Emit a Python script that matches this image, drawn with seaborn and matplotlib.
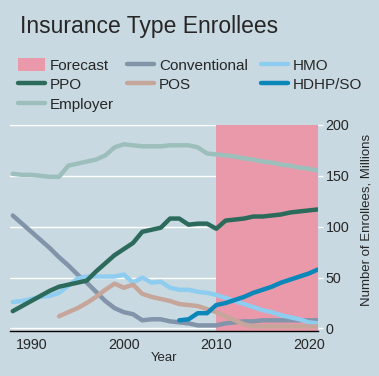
import numpy as np
import pandas as pd
import matplotlib
matplotlib.use("Agg")
import matplotlib.pyplot as plt
from matplotlib.lines import Line2D
from matplotlib.patches import Patch
import seaborn as sns

# values (millions of enrollees)
years = list(range(1988, 2022))
employer = [152, 151, 151, 150, 149, 149, 160, 162, 164, 166, 170, 178, 181, 180, 179, 179, 179,
            180, 180, 180, 178, 172, 171, 170, 169, 167, 166, 164, 163, 161, 160, 158, 157, 155]
conventional = [111, 103, 95, 87, 79, 70, 62, 53, 45, 36, 27, 20, 16, 14, 8, 9, 9,
                7, 6, 5, 3, 3, 3, 5, 6, 7, 7, 8, 8, 8, 8, 8, 8, 8]
ppo = [17, 22, 27, 32, 37, 41, 43, 45, 47, 56, 64, 72, 78, 84, 95, 97, 99,
       108, 108, 102, 103, 103, 98, 106, 107, 108, 110, 110, 111, 112, 114, 115, 116, 117]
hmo = [26, 27, 29, 31, 32, 35, 42, 49, 51, 51, 51, 51, 53, 45, 50, 45, 46,
       40, 38, 38, 36, 35, 33, 30, 27, 24, 21, 18, 16, 13, 11, 9, 6, 5]
pos_years = list(range(1993, 2022))
pos = [12, 16, 20, 25, 31, 38, 44, 40, 43, 34, 31, 29, 27, 24, 23, 22, 19, 16,
       12, 8, 4, 2, 2, 2, 2, 2, 2, 2, 2]
hdhp_years = list(range(2006, 2022))
hdhp = [8, 9, 15, 15, 23, 25, 28, 31, 35, 38, 41, 45, 48, 51, 54, 58]

forecast_start, forecast_end = 2010, 2021

series_order = ["Employer", "Conventional", "HMO", "POS", "PPO", "HDHP/SO"]
colors = {
    "Conventional": "#8194aa",
    "HMO": "#8fcdf0",
    "PPO": "#2c6b5b",
    "POS": "#c6a69b",
    "HDHP/SO": "#0b87ba",
    "Employer": "#9dbfbc",
}
bg = "#c9d9e1"
forecast_color = "#e999a9"

frames = []
for name, xs, ys in [("Employer", years, employer), ("Conventional", years, conventional),
                     ("PPO", years, ppo), ("HMO", years, hmo),
                     ("POS", pos_years, pos), ("HDHP/SO", hdhp_years, hdhp)]:
    frames.append(pd.DataFrame({"Year": xs, "Enrollees": ys, "Type": name}))
df = pd.concat(frames, ignore_index=True)

sns.set_style("white")
plt.rcParams["font.family"] = ["Liberation Sans", "DejaVu Sans"]

fig = plt.figure(figsize=(3.79, 3.76), dpi=100, facecolor=bg)
ax = fig.add_axes([0.0264, 0.1197, 0.8127, 0.548], facecolor=bg)

ax.axvspan(forecast_start, forecast_end, color=forecast_color, lw=0, zorder=1)
for v in [0, 50, 100, 150, 200]:
    ax.axhline(v, color="white", lw=1, zorder=0.5)

sns.lineplot(data=df, x="Year", y="Enrollees", hue="Type", hue_order=series_order,
             palette=colors, lw=3.2, ax=ax, legend=False, zorder=3)

ax.set_xlim(1987.7, 2021)
ax.set_ylim(-2.5, 200)
for s in ["top", "left", "right"]:
    ax.spines[s].set_visible(False)
ax.spines["bottom"].set_color("black")
ax.spines["bottom"].set_linewidth(1)
ax.spines["bottom"].set_zorder(4)

ax.set_xticks([1990, 2000, 2010, 2020])
ax.tick_params(axis="x", direction="in", length=4, width=1, color="black",
               labelsize=10.3, pad=5)
ax.yaxis.tick_right()
ax.yaxis.set_label_position("right")
ax.set_yticks([0, 50, 100, 150, 200])
ax.tick_params(axis="y", direction="out", length=3.5, width=1, color="white",
               labelsize=10.3, pad=2)
ax.set_xlabel("Year", fontsize=9.5, labelpad=0)
ax.set_ylabel("Number of Enrollees, Millions", fontsize=9.5, labelpad=8)
ax.yaxis.label.set_y(0.54)

fig.text(0.053, 0.9114, "Insurance Type Enrollees", fontsize=16.5, va="baseline", ha="left")

lw_leg = 3.2
handles = [
    Patch(facecolor=forecast_color, edgecolor="none", label="Forecast"),
    Line2D([], [], color=colors["PPO"], lw=lw_leg, label="PPO"),
    Line2D([], [], color=colors["Employer"], lw=lw_leg, label="Employer"),
    Line2D([], [], color=colors["Conventional"], lw=lw_leg, label="Conventional"),
    Line2D([], [], color=colors["POS"], lw=lw_leg, label="POS"),
    Line2D([], [], color=colors["HMO"], lw=lw_leg, label="HMO"),
    Line2D([], [], color=colors["HDHP/SO"], lw=lw_leg, label="HDHP/SO"),
]
fig.legend(handles=handles, ncol=3, loc="upper left", bbox_to_anchor=(0.047, 0.846),
           frameon=False, fontsize=11, handlelength=1.75, handleheight=0.9,
           handletextpad=0.35, columnspacing=0.85, labelspacing=0.33, borderaxespad=0,
           borderpad=0)

fig.savefig("out.png", dpi=100, facecolor=bg)
